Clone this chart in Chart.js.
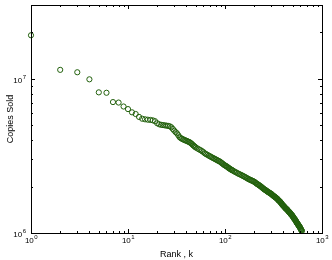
<!DOCTYPE html>
<html>
<head>
<meta charset="utf-8">
<script src="https://cdn.jsdelivr.net/npm/chart.js@4/dist/chart.umd.min.js"></script>
<style>
  body { margin: 0; background: #fff; }
  canvas { display: block; }
</style>
</head>
<body>
<canvas id="rankChart" width="332" height="260"></canvas>
<script>
// ===== Data =====

// rank k of each plotted title
const ranks = [
  1, 2, 3, 4, 5, 6, 7, 8, 9, 10,
  11, 12, 13, 14, 15, 16, 17, 18, 19, 20,
  21, 22, 23, 24, 25, 26, 27, 28, 29, 30,
  31, 32, 33, 34, 35, 36, 37, 38, 39, 40,
  41, 42, 43, 44, 45, 46, 47, 48, 49, 50,
  52, 54, 56, 58, 60, 62, 64, 66, 68, 70,
  72, 74, 76, 78, 80, 82, 84, 86, 88, 90,
  92, 94, 96, 98, 100, 102, 104, 106, 108, 110,
  112, 114, 116, 118, 120,
  124, 128, 132, 136, 140, 144, 148, 152, 156, 160,
  164, 168, 172, 176, 180, 184, 188, 192, 196, 200,
  204, 208, 212, 216, 220, 224, 228, 232, 236, 240,
  244, 248, 252, 256, 260, 264, 268, 272, 276, 280,
  284, 288, 292, 296, 300, 304, 308, 312, 316, 320,
  324, 328, 332, 336, 340, 344, 348, 352, 356, 360,
  364, 368, 372, 376, 380, 384, 388, 392, 396, 400,
  404, 408, 412, 416, 420, 424, 428, 432, 436, 440,
  444, 448, 452, 456, 460, 464, 468, 472, 476, 480,
  484, 488, 492, 496, 500, 504, 508, 512, 516, 520,
  524, 528, 532, 536, 540, 544, 548, 552, 556, 560,
  564, 568, 572, 576, 580, 584, 588, 592, 596, 600,
  604, 608, 612, 616, 620
];

// copies sold, in millions
const copiesMillions = [
  19.1, 11.4, 11.0, 9.9, 8.15, 8.1, 7.05, 7.0, 6.6, 6.35,
  6.05, 5.9, 5.65, 5.5, 5.45, 5.42, 5.4, 5.37, 5.3, 5.14,
  5.06, 5.02, 5.0, 4.98, 4.96, 4.94, 4.91, 4.84, 4.72, 4.6,
  4.5, 4.42, 4.3, 4.18, 4.12, 4.08, 4.04, 4.01, 3.98, 3.96,
  3.93, 3.9, 3.88, 3.84, 3.8, 3.75, 3.7, 3.66, 3.62, 3.58,
  3.53, 3.48, 3.44, 3.39, 3.34, 3.28, 3.24, 3.21, 3.17, 3.14,
  3.11, 3.08, 3.05, 3.03, 3.0, 2.98, 2.95, 2.93, 2.91, 2.88,
  2.85, 2.82, 2.79, 2.76, 2.74, 2.72, 2.70, 2.68, 2.65, 2.63,
  2.61, 2.59, 2.57, 2.56, 2.54,
  2.51, 2.48, 2.46, 2.43, 2.41, 2.39, 2.37, 2.35, 2.33, 2.31,
  2.29, 2.27, 2.25, 2.23, 2.22, 2.20, 2.19, 2.18, 2.16, 2.15,
  2.13, 2.11, 2.09, 2.07, 2.06, 2.04, 2.03, 2.01, 1.99, 1.98,
  1.96, 1.94, 1.93, 1.91, 1.90, 1.89, 1.88, 1.86, 1.85, 1.84,
  1.83, 1.82, 1.81, 1.80, 1.79, 1.78, 1.76, 1.75, 1.74, 1.73,
  1.72, 1.71, 1.70, 1.69, 1.68, 1.67, 1.66, 1.64, 1.63, 1.62,
  1.61, 1.60, 1.59, 1.57, 1.56, 1.55, 1.53, 1.52, 1.51, 1.50,
  1.49, 1.48, 1.47, 1.46, 1.45, 1.44, 1.43, 1.43, 1.42, 1.41,
  1.40, 1.39, 1.38, 1.37, 1.37, 1.36, 1.35, 1.34, 1.33, 1.32,
  1.31, 1.31, 1.30, 1.29, 1.28, 1.27, 1.26, 1.25, 1.24, 1.23,
  1.23, 1.22, 1.21, 1.20, 1.19, 1.18, 1.17, 1.16, 1.16, 1.15,
  1.14, 1.13, 1.12, 1.12, 1.11, 1.10, 1.10, 1.09, 1.08, 1.07,
  1.06, 1.05, 1.05, 1.04, 1.03
];

// decade tick labels (exponents of 10)
const xTickExponents = [0, 1, 2, 3];
const yTickExponents = [6, 7];

const xTitle = "Rank , k";
const yTitle = "Copies Sold";


// ===== Axes drawn MATLAB style =====

const FONT = 'Helvetica, Arial, "Liberation Sans", sans-serif';

const matlabAxes = {
  id: "matlabAxes",
  afterDraw(chart) {
    const ctx = chart.ctx;
    const area = chart.chartArea;
    const xs = chart.scales.x;
    const ys = chart.scales.y;
    const L = Math.round(area.left), R = Math.round(area.right);
    const T = Math.round(area.top), B = Math.round(area.bottom);

    ctx.save();
    ctx.strokeStyle = "#000";
    ctx.lineWidth = 1;

    // box
    ctx.strokeRect(L + 0.5, T + 0.5, R - L, B - T);

    // x ticks, bottom and top
    ctx.beginPath();
    for (let d = 0; d <= 3; d++) {
      for (let m = 1; m <= 9; m++) {
        const v = m * Math.pow(10, d);
        if (v > 1000) break;
        const px = Math.round(xs.getPixelForValue(v)) + 0.5;
        const len = m === 1 ? 4 : 2;
        ctx.moveTo(px, B); ctx.lineTo(px, B - len);
        ctx.moveTo(px, T); ctx.lineTo(px, T + len);
      }
    }

    // y ticks, left and right
    for (let d = 6; d <= 7; d++) {
      for (let m = 1; m <= 9; m++) {
        const v = m * Math.pow(10, d);
        if (v >= ys.max) break;
        const py = Math.round(ys.getPixelForValue(v)) + 0.5;
        const len = m === 1 ? 4 : 2;
        ctx.moveTo(L, py); ctx.lineTo(L + len, py);
        ctx.moveTo(R, py); ctx.lineTo(R - len, py);
      }
    }
    ctx.stroke();

    ctx.fillStyle = "#000";
    ctx.textBaseline = "alphabetic";

    // x tick labels
    xTickExponents.forEach(e => {
      const px = xs.getPixelForValue(Math.pow(10, e));
      ctx.font = "8px " + FONT;
      const wBase = ctx.measureText("10").width;
      ctx.font = "6px " + FONT;
      const wExp = ctx.measureText(String(e)).width;
      const x0 = px - (wBase + wExp) / 2;
      ctx.textAlign = "left";
      ctx.font = "8px " + FONT;
      ctx.fillText("10", x0, 243);
      ctx.font = "6px " + FONT;
      ctx.fillText(String(e), x0 + wBase + 0.5, 239);
    });

    // y tick labels
    yTickExponents.forEach(e => {
      const py = ys.getPixelForValue(Math.pow(10, e));
      ctx.font = "6px " + FONT;
      const wExp = ctx.measureText(String(e)).width;
      const xEnd = L - 5;
      ctx.textAlign = "left";
      ctx.fillText(String(e), xEnd - wExp, py);
      ctx.textAlign = "right";
      ctx.font = "8px " + FONT;
      ctx.fillText("10", xEnd - wExp - 0.5, py + 4);
    });

    // axis titles
    ctx.font = "9px " + FONT;
    ctx.textAlign = "center";
    ctx.fillText(xTitle, (L + R) / 2, 257);

    ctx.translate(13, (T + B) / 2);
    ctx.rotate(-Math.PI / 2);
    ctx.fillText(yTitle, 0, 0);

    ctx.restore();
  }
};


// ===== Chart =====

const chartEl = document.getElementById("rankChart");

new Chart(chartEl, {

  type: "scatter",

  data: {
    datasets: [{
      label: "Copies Sold",
      data: ranks.map((r, i) => ({ x: r, y: copiesMillions[i] * 1e6 })),
      showLine: false,
      pointStyle: "circle",
      pointRadius: 2.6,
      pointBorderWidth: 1,
      pointBorderColor: "#22600c",
      pointBackgroundColor: "rgba(0,0,0,0)",
      clip: false
    }]
  },

  options: {
    responsive: false,
    animation: false,
    layout: {
      padding: { left: 31, right: 10, top: 3, bottom: 27 }
    },
    plugins: {
      legend: { display: false },
      tooltip: { enabled: false }
    },
    scales: {
      x: {
        type: "logarithmic",
        min: 1,
        max: 1000,
        display: false
      },
      y: {
        type: "logarithmic",
        min: 1e6,
        max: 3e7,
        display: false
      }
    }
  },

  plugins: [matlabAxes]

});
</script>
</body>
</html>
